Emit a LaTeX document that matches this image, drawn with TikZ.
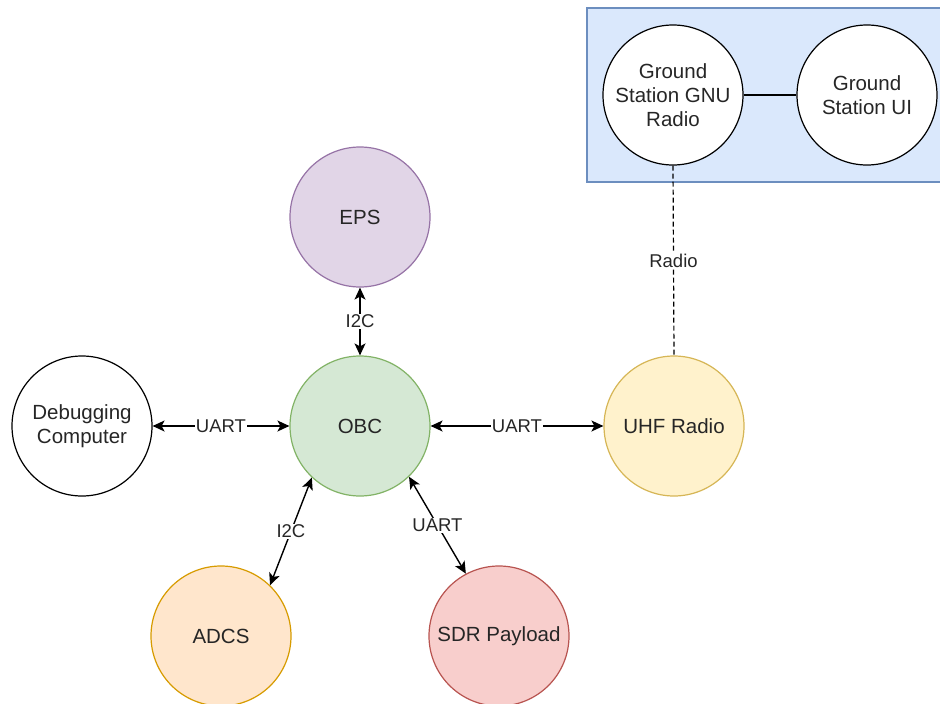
\documentclass[tikz,border=0pt]{standalone}
\usepackage{fontspec}
\setmainfont{Liberation Sans}
\usetikzlibrary{arrows.meta}

\definecolor{txt}{HTML}{262626}
\definecolor{gsfill}{HTML}{DAE8FC}\definecolor{gsline}{HTML}{6C8EBF}
\definecolor{epsfill}{HTML}{E1D5E7}\definecolor{epsline}{HTML}{9673A6}
\definecolor{obcfill}{HTML}{D5E8D4}\definecolor{obcline}{HTML}{82B366}
\definecolor{uhffill}{HTML}{FFF2CC}\definecolor{uhfline}{HTML}{D6B656}
\definecolor{adcsfill}{HTML}{FFE6CC}\definecolor{adcsline}{HTML}{D79B00}
\definecolor{sdrfill}{HTML}{F8CECC}\definecolor{sdrline}{HTML}{B85450}

\tikzset{
  unit/.style={circle, minimum size=140pt, inner sep=0pt, line width=1.2pt,
    text=txt, align=center, font=\fontsize{20.5}{24}\selectfont},
  link/.style={line width=1.4pt, {Stealth[length=12pt,width=11pt,inset=3pt]}-{Stealth[length=12pt,width=11pt,inset=3pt]}},
  tag/.style={fill=white, inner sep=1pt, text=txt, font=\fontsize{18.5}{22}\selectfont},
}

\begin{document}
\begin{tikzpicture}[x=1pt,y=-1pt]
  \useasboundingbox (0,0) rectangle (940,704);

  % ground segment container
  \begin{scope}
    \clip (0,0) rectangle (940,704);
    \draw[fill=gsfill, draw=gsline, line width=1.2pt] (587,8) rectangle (950,182);
  \end{scope}

  % ground segment
  \node[unit, draw=black, fill=white] (gnu) at (673,95) {Ground\\Station GNU\\Radio};
  \node[unit, draw=black, fill=white] (gsui) at (867,95) {Ground\\Station UI};

  % satellite subsystems
  \node[unit, draw=epsline, fill=epsfill] (eps) at (360,217) {EPS};
  \node[unit, draw=obcline, fill=obcfill] (obc) at (360,426) {OBC};
  \node[unit, draw=black, fill=white] (dbg) at (82,426) {Debugging\\Computer};
  \node[unit, draw=uhfline, fill=uhffill] (uhf) at (674,426) {UHF Radio};
  \node[unit, draw=adcsline, fill=adcsfill] (adcs) at (221,636) {ADCS};
  \node[unit, draw=sdrline, fill=sdrfill] (sdr) at (499,636) {SDR Payload};

  % links
  \draw[line width=1.4pt] (gnu) -- (gsui);
  \draw[line width=1.2pt, dashed, dash pattern=on 5pt off 3pt] (gnu.south) -- node[tag]{Radio} (uhf.north);
  \draw[link] (eps) -- node[tag]{I2C} (obc);
  \draw[link] (dbg) -- node[tag]{UART} (obc);
  \draw[link] (obc) -- node[tag]{UART} (uhf);
  \draw[link] (obc.227) -- node[tag]{I2C} (adcs.46);
  \draw[link] (obc.314) -- node[tag]{UART} (sdr.118);
\end{tikzpicture}
\end{document}
